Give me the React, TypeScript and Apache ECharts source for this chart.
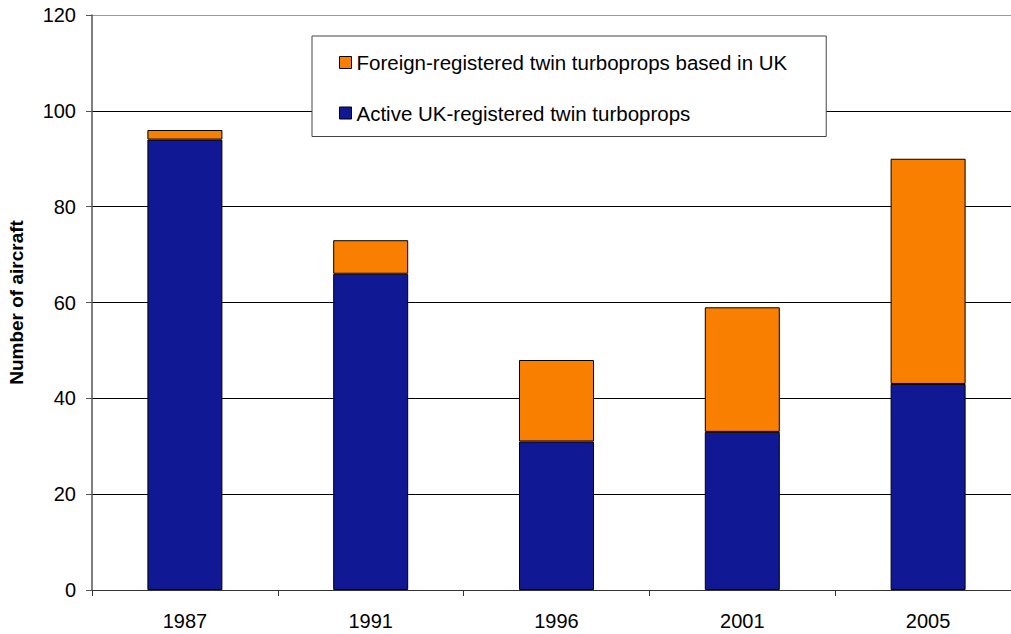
import React, { useEffect, useRef } from "react";
import * as echarts from "echarts";

const years = ["1987", "1991", "1996", "2001", "2005"];
const activeUK = [94, 66, 31, 33, 43];
const foreignUK = [2, 7, 17, 26, 47];
const seriesNames = [
  "Foreign-registered twin turboprops based in UK",
  "Active UK-registered twin turboprops",
];

export default function App() {
  const ref = useRef<HTMLDivElement>(null);
  useEffect(() => {
    if (!ref.current) return;
    document.body.style.margin = "0";
    document.body.style.overflow = "hidden";
    const chart = echarts.init(ref.current, null, { renderer: "svg" });
    const font = "'Liberation Sans', Arial, sans-serif";
    chart.setOption({
      animation: false,
      backgroundColor: "#fff",
      textStyle: { fontFamily: font },
      grid: {
        left: 92,
        top: 15,
        width: 929,
        height: 575,
        containLabel: false,
        outerBoundsMode: "none",
      },
      legend: {
        data: seriesNames,
        orient: "vertical",
        left: 312,
        top: 36,
        padding: [16, 39, 13, 27],
        itemGap: 29.5,
        itemWidth: 12,
        itemHeight: 12,
        icon: "rect",
        selectedMode: false,
        borderColor: "#444",
        borderWidth: 1,
        backgroundColor: "#fff",
        itemStyle: { borderColor: "#000", borderWidth: 1 },
        textStyle: { fontFamily: font, fontSize: 20.5, color: "#000", lineHeight: 20 },
      },
      xAxis: {
        type: "category",
        data: years,
        axisLine: { lineStyle: { color: "#333", width: 1 } },
        axisTick: { show: true, length: 6, lineStyle: { color: "#333" } },
        axisLabel: { fontFamily: font, fontSize: 20, color: "#000", margin: 21 },
      },
      yAxis: {
        type: "value",
        min: 0,
        max: 120,
        interval: 20,
        name: "Number of aircraft",
        nameLocation: "middle",
        nameGap: 66,
        nameRotate: 90,
        nameTextStyle: { fontFamily: font, fontSize: 19, fontWeight: "bold", color: "#000" },
        axisLine: { show: true, lineStyle: { color: "#555", width: 1.5 } },
        axisTick: { show: true, length: 6, lineStyle: { color: "#555" } },
        axisLabel: { fontFamily: font, fontSize: 20, color: "#000", margin: 16 },
        splitLine: {
          show: true,
          lineStyle: { color: ["#000", "#000", "#000", "#000", "#000", "#000", "#999"], width: 1 },
        },
      },
      series: [
        {
          name: seriesNames[1],
          type: "bar",
          stack: "total",
          data: activeUK,
          barWidth: 75,
          itemStyle: { color: "#101894", borderColor: "#000", borderWidth: 1 },
        },
        {
          name: seriesNames[0],
          type: "bar",
          stack: "total",
          data: foreignUK,
          barWidth: 75,
          itemStyle: { color: "#F87F00", borderColor: "#000", borderWidth: 1 },
        },
      ],
    });
    return () => chart.dispose();
  }, []);
  return (
    <div style={{ position: "fixed", left: 0, top: 0, width: 1011, height: 634, overflow: "hidden", background: "#fff" }}>
      <div ref={ref} style={{ width: 1011, height: 634 }} />
    </div>
  );
}
